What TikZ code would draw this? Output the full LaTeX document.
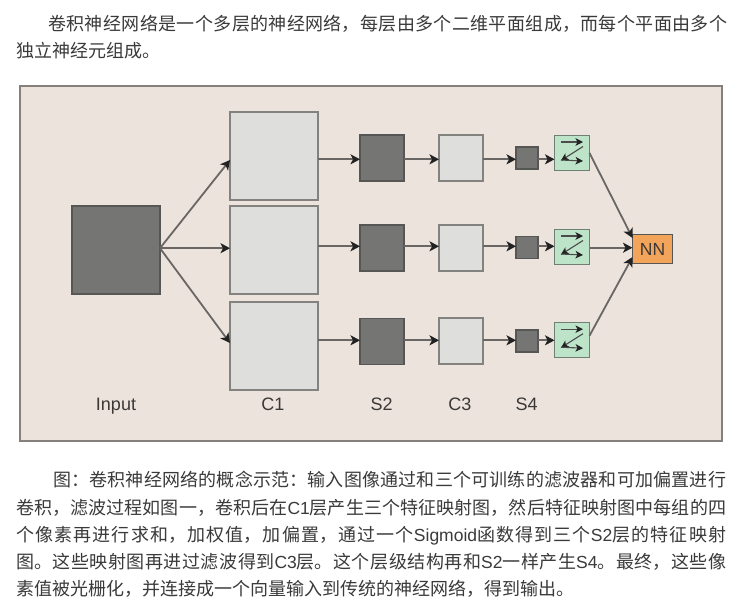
\documentclass[tikz,border=0pt]{standalone}
\usepackage{fontspec}
\setmainfont{Liberation Sans}
\newfontfamily\cjk{Noto Sans CJK SC}
\usetikzlibrary{arrows.meta}
\XeTeXlinebreaklocale "zh"
\XeTeXlinebreakskip=0pt plus 2pt
\tolerance=9999
\hbadness=10000
\definecolor{panelbg}{HTML}{EBE3DC}
\definecolor{panelline}{HTML}{85807B}
\definecolor{darkbox}{HTML}{757573}
\definecolor{darkline}{HTML}{565654}
\definecolor{lightbox}{HTML}{DEDEDC}
\definecolor{lightline}{HTML}{83827F}
\definecolor{greenbox}{HTML}{BDE3C9}
\definecolor{greenline}{HTML}{6F7F74}
\definecolor{orangebox}{HTML}{F2A45B}
\definecolor{wire}{HTML}{6A6663}
\definecolor{tipcol}{HTML}{222222}
\definecolor{bodytext}{HTML}{3A3A3A}
\definecolor{labeltext}{HTML}{3C3836}
\newcommand{\lat}[1]{{\rmfamily\fontsize{17.5}{20}\selectfont #1}}
\newcommand{\jline}[2]{\parbox[b]{#1pt}{\noindent\parfillskip=0pt\relax #2\par}}
\tikzset{
  boxbase/.style={rectangle,inner sep=0pt,outer sep=0pt,line width=1.5pt},
  darksq/.style={boxbase,draw=darkline,fill=darkbox},
  lightsq/.style={boxbase,draw=lightline,fill=lightbox},
  greensq/.style={boxbase,draw=greenline,fill=greenbox,minimum width=35pt,minimum height=35pt},
  nnbox/.style={boxbase,draw=darkline,fill=orangebox,minimum width=40pt,minimum height=29pt,text=labeltext,font=\fontsize{17.5}{18}\selectfont},
  conn/.style={draw=wire,line width=1.8pt,-{Stealth[length=9.5pt,width=10pt,inset=2.5pt,color=tipcol]},shorten >=0pt},
  glyph/.style={draw=black!70,line width=1.1pt,-{Stealth[length=7.5pt,width=7.5pt,inset=2pt,color=tipcol]}},
  axislabel/.style={anchor=base,text=labeltext,inner sep=0pt,font=\fontsize{18}{20}\selectfont},
  para/.style={anchor=base west,inner sep=0pt,text=bodytext,font=\cjk\fontsize{18}{20}\selectfont},
}
\begin{document}
\begin{tikzpicture}[x=1pt,y=-1pt]
\useasboundingbox (0,0) rectangle (742,606);
\fill[white] (0,0) rectangle (742,606);
\node[para] (t1) at (48,30.5) {\jline{679}{卷积神经网络是一个多层的神经网络，每层由多个二维平面组成，而每个平面由多个}};
\node[para] (t2) at (16,57.5) {独立神经元组成。};
\node[boxbase,draw=panelline,fill=panelbg,minimum width=702pt,minimum height=355pt] (panel) at (371,263.5) {};
\node[darksq,minimum width=88pt,minimum height=88pt] (inp) at (116,250) {};
\node[lightsq,minimum width=88pt,minimum height=88pt] (c1a) at (274,156) {};
\node[lightsq,minimum width=88pt,minimum height=88pt] (c1b) at (274,250) {};
\node[lightsq,minimum width=88pt,minimum height=88pt] (c1c) at (274,346) {};
\node[darksq,minimum width=44pt,minimum height=46pt] (s2a) at (382,158) {};
\node[darksq,minimum width=44pt,minimum height=46pt] (s2b) at (382,248) {};
\node[darksq,minimum width=44pt,minimum height=46pt] (s2c) at (382,341.5) {};
\node[lightsq,minimum width=44pt,minimum height=46pt] (c3a) at (461,158) {};
\node[lightsq,minimum width=44pt,minimum height=46pt] (c3b) at (461,248) {};
\node[lightsq,minimum width=44pt,minimum height=46pt] (c3c) at (461,341.2) {};
\node[darksq,minimum width=22pt,minimum height=22pt] (s4a) at (527,158) {};
\node[darksq,minimum width=22pt,minimum height=22pt] (s4b) at (527,247.5) {};
\node[darksq,minimum width=22pt,minimum height=22pt] (s4c) at (527,341) {};
\node[greensq] (ga) at (572,153) {};
\node[greensq] (gb) at (572,247) {};
\node[greensq] (gc) at (572,340.2) {};
\node[nnbox] (nn) at (652.5,249) {NN};
\coordinate (rowa) at (0,159.3);
\coordinate (rowb) at (0,246.3);
\coordinate (rowc) at (0,340.3);
\coordinate (rownn) at (0,247.7);
\coordinate (rowi) at (0,248.2);
\foreach \g in {ga,gb,gc}{
  \begin{scope}[shift={(\g.center)}]
    \coordinate (\g p1) at (-11,-11);
    \coordinate (\g p2) at (11,-11);
    \coordinate (\g p3) at (11,-6.5);
    \coordinate (\g p4) at (-11,7.5);
    \coordinate (\g p5) at (-11,7);
    \coordinate (\g p6) at (11,8);
  \end{scope}
  \draw[glyph] (\g p1) -- (\g p2);
  \draw[glyph] (\g p3) -- (\g p4);
  \draw[glyph] (\g p5) -- (\g p6);
}
\draw[conn] (inp.east |- rowi) -- ([yshift=-4pt]c1a.west);
\draw[conn] (inp.east |- rowi) -- (c1b.west |- rowi);
\draw[conn] (inp.east |- rowi) -- ([yshift=3pt]c1c.west);
\foreach \a/\b/\r in {c1a/s2a/rowa,c1b/s2b/rowb,c1c/s2c/rowc,s2a/c3a/rowa,s2b/c3b/rowb,s2c/c3c/rowc,c3a/s4a/rowa,c3b/s4b/rowb,c3c/s4c/rowc,s4a/ga/rowa,s4b/gb/rowb,s4c/gc/rowc}{
  \draw[conn] (\a.east |- \r) -- (\b.west |- \r);
}
\draw[conn] (ga.east) -- ([yshift=11pt]nn.west);
\draw[conn] (gb.east |- rownn) -- (nn.west |- rownn);
\draw[conn] ([yshift=4.5pt]gc.east) -- ([yshift=-8pt]nn.west);
\node[axislabel] (l1) at (116,410.5) {Input};
\node[axislabel] (l2) at (273,410.5) {C1};
\node[axislabel] (l3) at (381.7,410.5) {S2};
\node[axislabel] (l4) at (460,410.5) {C3};
\node[axislabel] (l5) at (526.7,410.5) {S4};
\node[para] (b1) at (53,486.5) {\jline{673}{图：卷积神经网络的概念示范：输入图像通过和三个可训练的滤波器和可加偏置进行}};
\node[para] (b2) at (16,514) {\jline{710}{卷积，滤波过程如图一，卷积后在\lat{C1}层产生三个特征映射图，然后特征映射图中每组的四}};
\node[para] (b3) at (16,541) {\jline{710}{个像素再进行求和，加权值，加偏置，通过一个\lat{Sigmoid}函数得到三个\lat{S2}层的特征映射}};
\node[para] (b4) at (16,568.5) {\jline{710}{图。这些映射图再进过滤波得到\lat{C3}层。这个层级结构再和\lat{S2}一样产生\lat{S4}。最终，这些像}};
\node[para] (b5) at (16,595.5) {素值被光栅化，并连接成一个向量输入到传统的神经网络，得到输出。};
\end{tikzpicture}
\end{document}
